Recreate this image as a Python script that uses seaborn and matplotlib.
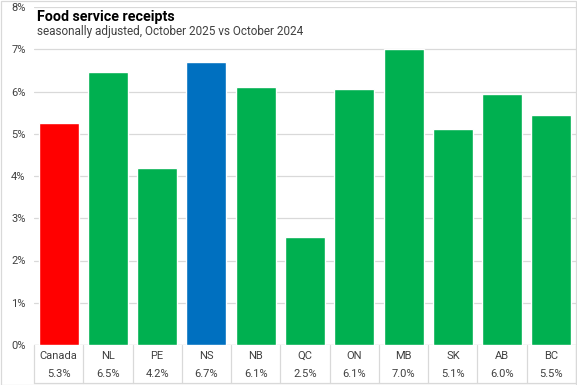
import matplotlib.pyplot as plt
import seaborn as sns

# --- data ---
REGIONS = ["Canada", "NL", "PE", "NS", "NB", "QC", "ON", "MB", "SK", "AB", "BC"]
CHANGE_PCT = [5.25, 6.45, 4.2, 6.7, 6.1, 2.55, 6.05, 7.0, 5.12, 5.95, 5.45]
VALUE_LABELS = ["5.3%", "6.5%", "4.2%", "6.7%", "6.1%", "2.5%", "6.1%", "7.0%", "5.1%", "6.0%", "5.5%"]
BAR_COLORS = ["#FF0000", "#00B050", "#00B050", "#0070C0", "#00B050", "#00B050",
              "#00B050", "#00B050", "#00B050", "#00B050", "#00B050"]
Y_TICKS = [0, 1, 2, 3, 4, 5, 6, 7, 8]

TITLE = "Food service receipts"
SUBTITLE = "seasonally adjusted, October 2025 vs October 2024"

GRID_COLOR = "#D9D9D9"
TEXT_COLOR = "#404040"

sns.set_theme(style="white")
plt.rcParams["font.family"] = ["Roboto", "DejaVu Sans"]

fig = plt.figure(figsize=(5.77, 3.85), dpi=100)
ax = fig.add_axes([34 / 577, 1 - 345 / 385, 542 / 577, 338 / 385])

sns.barplot(x=REGIONS, y=CHANGE_PCT, hue=REGIONS, palette=BAR_COLORS,
            legend=False, width=0.81, saturation=1, ax=ax)

ax.set_ylim(0, 8)
ax.set_xlim(-0.5, len(REGIONS) - 0.5)
ax.set_yticks(Y_TICKS)
ax.set_yticklabels([f"{t}%" for t in Y_TICKS], fontsize=8, color=TEXT_COLOR)
ax.tick_params(axis="y", length=0, pad=6)
ax.set_xticks([])
ax.set_xlabel("")
ax.set_ylabel("")
ax.yaxis.grid(True, color=GRID_COLOR, linewidth=0.9)
ax.set_axisbelow(True)
for s in ax.spines.values():
    s.set_visible(False)
ax.axhline(0, color=GRID_COLOR, linewidth=0.9, zorder=0)

# data table under the axis
trans = ax.get_xaxis_transform()
for i, (reg, lab) in enumerate(zip(REGIONS, VALUE_LABELS)):
    ax.text(i, -0.032, reg, transform=trans, ha="center", va="center",
            fontsize=8, color=TEXT_COLOR)
    ax.text(i, -0.085, lab, transform=trans, ha="center", va="center",
            fontsize=8, color=TEXT_COLOR)
for i in range(len(REGIONS) + 1):
    ax.plot([i - 0.5, i - 0.5], [0, -0.112], transform=trans, color=GRID_COLOR,
            linewidth=0.9, clip_on=False)
ax.plot([-0.5, len(REGIONS) - 0.5], [-0.112, -0.112], transform=trans,
        color=GRID_COLOR, linewidth=0.9, clip_on=False)

# titles
fig.text(37 / 577, 1 - 17 / 385, TITLE, fontsize=10.3, fontweight="bold",
         color="black", ha="left", va="center")
fig.text(37 / 577, 1 - 31 / 385, SUBTITLE, fontsize=8.5, color=TEXT_COLOR,
         ha="left", va="center")

# outer border
fig.patches.append(plt.Rectangle((0.001, 0.001), 0.998, 0.997, transform=fig.transFigure,
                                 fill=False, edgecolor=GRID_COLOR, linewidth=0.9))

fig.savefig("out.png", dpi=100)
